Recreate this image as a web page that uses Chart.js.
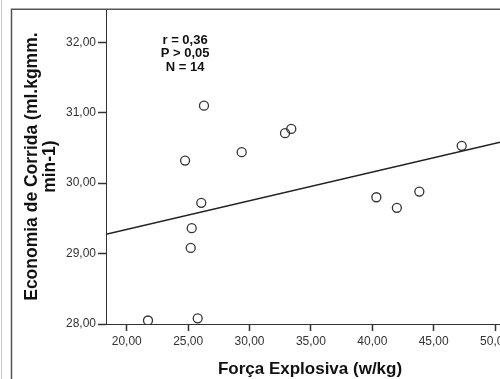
<!DOCTYPE html>
<html>
<head>
<meta charset="utf-8">
<script src="https://cdn.jsdelivr.net/npm/chart.js@4.4.1/dist/chart.umd.min.js"></script>
<style>
html,body{margin:0;padding:0;width:500px;height:379px;overflow:hidden;background:#fff}
#wrap{width:540px;height:379px;position:relative}
canvas{display:block}
</style>
</head>
<body>
<div id="wrap"><canvas id="c" width="540" height="379"></canvas></div>
<script>
// Data
const forcaExplosiva = [26.29, 24.75, 29.36, 32.89, 33.40, 47.28, 43.83, 40.33, 42.00, 26.07, 25.29, 25.21, 21.73, 25.78];
const economiaCorrida = [31.10, 30.32, 30.44, 30.71, 30.77, 30.53, 29.88, 29.80, 29.65, 29.72, 29.36, 29.08, 28.05, 28.08];
const annotationLines = ['r = 0,36', 'P > 0,05', 'N = 14'];
const xTitle = 'Força Explosiva (w/kg)';
const yTitle = ['Economia de Corrida (ml.kgmm.', 'min-1)'];
const xRange = [18.31, 51.54];
const yRange = [28, 32.47];
const xStep = 5;
const yStep = 1;
const annotationAnchor = [24.75, 32.03];

// Least-squares fit line from the data
function linFit(xs, ys) {
  const n = xs.length;
  const mx = xs.reduce((a, b) => a + b, 0) / n;
  const my = ys.reduce((a, b) => a + b, 0) / n;
  let sxy = 0, sxx = 0;
  for (let i = 0; i < n; i++) { sxy += (xs[i] - mx) * (ys[i] - my); sxx += (xs[i] - mx) ** 2; }
  const slope = sxy / sxx;
  return { slope, intercept: my - slope * mx };
}
const fit = linFit(forcaExplosiva, economiaCorrida);
const fitLine = xRange.map(x => ({ x, y: fit.intercept + fit.slope * x }));
const points = forcaExplosiva.map((x, i) => ({ x, y: economiaCorrida[i] }));

const fmt = v => Number(v).toFixed(2).replace('.', ',');
const FONT = "'Liberation Sans', Arial, Helvetica, sans-serif";

const framePlugin = {
  id: 'frame',
  afterDraw(chart) {
    const ctx = chart.ctx;
    const ca = chart.chartArea;
    ctx.save();
    ctx.strokeStyle = '#555';
    ctx.lineWidth = 1.5;
    ctx.beginPath();
    ctx.moveTo(11.5, chart.height);
    ctx.lineTo(11.5, ca.top);
    ctx.lineTo(chart.width, ca.top);
    ctx.stroke();
    ctx.strokeStyle = '#c8c8c8';
    ctx.lineWidth = 1;
    ctx.beginPath();
    ctx.moveTo(1.5, 0);
    ctx.lineTo(1.5, chart.height);
    ctx.stroke();
    // annotation text
    const xs = chart.scales.x, ys = chart.scales.y;
    const px = xs.getPixelForValue(annotationAnchor[0]);
    const py = ys.getPixelForValue(annotationAnchor[1]);
    ctx.fillStyle = '#111';
    ctx.font = 'bold 13px ' + FONT;
    ctx.textAlign = 'center';
    ctx.textBaseline = 'middle';
    annotationLines.forEach((t, i) => ctx.fillText(t, px, py + i * 13.5));
    ctx.restore();
  }
};

new Chart(document.getElementById('c'), {
  type: 'scatter',
  data: {
    datasets: [
      {
        type: 'line',
        data: fitLine,
        borderColor: '#222',
        borderWidth: 1.5,
        pointRadius: 0,
        fill: false,
        order: 2
      },
      {
        data: points,
        pointStyle: 'circle',
        pointRadius: 4.5,
        borderColor: '#333',
        borderWidth: 1.3,
        backgroundColor: 'rgba(255,255,255,0)',
        order: 1
      }
    ]
  },
  options: {
    responsive: false,
    animation: false,
    devicePixelRatio: 1,
    layout: { padding: { left: 12, top: 9, right: 26, bottom: 0 } },
    plugins: { legend: { display: false }, tooltip: { enabled: false } },
    scales: {
      x: {
        type: 'linear',
        min: xRange[0],
        max: xRange[1],
        afterFit(s) { s.height = 55; },
        border: { color: '#333', width: 1 },
        grid: { drawOnChartArea: false, drawTicks: true, tickLength: 7, color: '#333', tickWidth: 1.5 },
        ticks: {
          stepSize: xStep, includeBounds: false, autoSkip: false, maxRotation: 0,
          color: '#333', padding: 3, font: { family: FONT, size: 12 },
          callback: v => fmt(v)
        },
        title: {
          display: true, text: xTitle, color: '#111',
          font: { family: FONT, size: 17, weight: 'bold', lineHeight: 1.1 },
          padding: { top: 0, bottom: 0 }
        }
      },
      y: {
        type: 'linear',
        min: yRange[0],
        max: yRange[1],
        afterFit(s) { s.width = 94; },
        border: { color: '#333', width: 1 },
        grid: { drawOnChartArea: false, drawTicks: true, tickLength: 8, color: '#333', tickWidth: 1.5 },
        ticks: {
          stepSize: yStep, includeBounds: false, autoSkip: false,
          color: '#333', padding: 2, font: { family: FONT, size: 12 },
          callback: v => fmt(v)
        },
        title: {
          display: true, text: yTitle, color: '#111',
          font: { family: FONT, size: 17.5, weight: 'bold', lineHeight: '18px' },
          padding: { top: 11, bottom: 0 }
        }
      }
    }
  },
  plugins: [framePlugin]
});
</script>
</body>
</html>
